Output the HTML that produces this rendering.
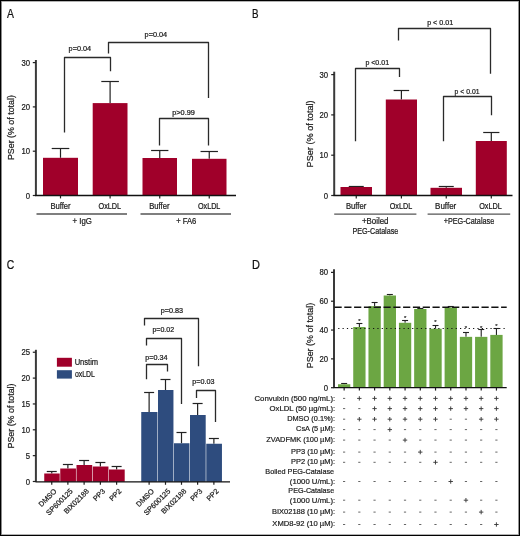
<!DOCTYPE html>
<html><head><meta charset="utf-8"><style>
html,body{margin:0;padding:0;background:#fff;}
body{width:520px;height:536px;overflow:hidden;}
svg{display:block;font-family:"Liberation Sans", sans-serif;}
</style></head><body>
<div style="will-change:transform;width:520px;height:536px"><svg width="520" height="536" viewBox="0 0 520 536">
<rect x="0" y="0" width="520" height="536" fill="#fff"/>
<text x="7.08" y="17.70" font-size="12.4" text-anchor="start" textLength="6.95" lengthAdjust="spacingAndGlyphs" fill="#111" stroke="#111" stroke-width="0.22" >A</text>
<line x1="35.90" y1="60.00" x2="35.90" y2="195.50" stroke="#3a3a3a" stroke-width="2.0" />
<line x1="32.80" y1="195.50" x2="35.90" y2="195.50" stroke="#222" stroke-width="1.2" />
<text x="25.81" y="198.60" font-size="8.6" text-anchor="start" textLength="4.30" lengthAdjust="spacingAndGlyphs" fill="#1a1a1a" stroke="#1a1a1a" stroke-width="0.22" >0</text>
<line x1="32.80" y1="151.20" x2="35.90" y2="151.20" stroke="#222" stroke-width="1.2" />
<text x="21.50" y="154.30" font-size="8.6" text-anchor="start" textLength="8.61" lengthAdjust="spacingAndGlyphs" fill="#1a1a1a" stroke="#1a1a1a" stroke-width="0.22" >10</text>
<line x1="32.80" y1="106.90" x2="35.90" y2="106.90" stroke="#222" stroke-width="1.2" />
<text x="21.50" y="110.00" font-size="8.6" text-anchor="start" textLength="8.61" lengthAdjust="spacingAndGlyphs" fill="#1a1a1a" stroke="#1a1a1a" stroke-width="0.22" >20</text>
<line x1="32.80" y1="62.60" x2="35.90" y2="62.60" stroke="#222" stroke-width="1.2" />
<text x="21.50" y="65.70" font-size="8.6" text-anchor="start" textLength="8.61" lengthAdjust="spacingAndGlyphs" fill="#1a1a1a" stroke="#1a1a1a" stroke-width="0.22" >30</text>
<text x="14.40" y="127.60" font-size="9.6" text-anchor="middle" textLength="65.00" lengthAdjust="spacingAndGlyphs" transform="rotate(-90 14.40 127.60)" fill="#1a1a1a" stroke="#1a1a1a" stroke-width="0.22" >PSer (% of total)</text>
<line x1="60.50" y1="157.80" x2="60.50" y2="148.50" stroke="#222" stroke-width="1.2" />
<line x1="51.70" y1="148.50" x2="69.30" y2="148.50" stroke="#222" stroke-width="1.2" />
<rect x="43.00" y="157.80" width="35.00" height="37.70" fill="#a0002a"/>
<line x1="60.50" y1="195.50" x2="60.50" y2="198.40" stroke="#222" stroke-width="1.2" />
<line x1="110.10" y1="103.10" x2="110.10" y2="81.50" stroke="#222" stroke-width="1.2" />
<line x1="101.30" y1="81.50" x2="118.90" y2="81.50" stroke="#222" stroke-width="1.2" />
<rect x="92.70" y="103.10" width="34.80" height="92.40" fill="#a0002a"/>
<line x1="110.10" y1="195.50" x2="110.10" y2="198.40" stroke="#222" stroke-width="1.2" />
<line x1="159.75" y1="158.00" x2="159.75" y2="150.50" stroke="#222" stroke-width="1.2" />
<line x1="151.10" y1="150.50" x2="168.40" y2="150.50" stroke="#222" stroke-width="1.2" />
<rect x="142.50" y="158.00" width="34.50" height="37.50" fill="#a0002a"/>
<line x1="159.75" y1="195.50" x2="159.75" y2="198.40" stroke="#222" stroke-width="1.2" />
<line x1="209.25" y1="158.80" x2="209.25" y2="151.50" stroke="#222" stroke-width="1.2" />
<line x1="200.55" y1="151.50" x2="217.95" y2="151.50" stroke="#222" stroke-width="1.2" />
<rect x="192.00" y="158.80" width="34.50" height="36.70" fill="#a0002a"/>
<line x1="209.25" y1="195.50" x2="209.25" y2="198.40" stroke="#222" stroke-width="1.2" />
<line x1="35.00" y1="195.50" x2="236.00" y2="195.50" stroke="#111" stroke-width="1.3" />
<text x="50.39" y="208.80" font-size="8.4" text-anchor="start" textLength="20.30" lengthAdjust="spacingAndGlyphs" fill="#1a1a1a" stroke="#1a1a1a" stroke-width="0.22" >Buffer</text>
<text x="98.51" y="208.80" font-size="8.4" text-anchor="start" textLength="22.68" lengthAdjust="spacingAndGlyphs" fill="#1a1a1a" stroke="#1a1a1a" stroke-width="0.22" >OxLDL</text>
<text x="149.13" y="208.80" font-size="8.4" text-anchor="start" textLength="20.36" lengthAdjust="spacingAndGlyphs" fill="#1a1a1a" stroke="#1a1a1a" stroke-width="0.22" >Buffer</text>
<text x="197.92" y="208.80" font-size="8.4" text-anchor="start" textLength="22.48" lengthAdjust="spacingAndGlyphs" fill="#1a1a1a" stroke="#1a1a1a" stroke-width="0.22" >OxLDL</text>
<line x1="36.50" y1="214.00" x2="127.00" y2="214.00" stroke="#555" stroke-width="1.3" />
<line x1="140.50" y1="214.00" x2="231.00" y2="214.00" stroke="#555" stroke-width="1.3" />
<text x="72.57" y="223.60" font-size="8.4" text-anchor="start" textLength="19.37" lengthAdjust="spacingAndGlyphs" fill="#1a1a1a" stroke="#1a1a1a" stroke-width="0.22" >+ IgG</text>
<text x="176.18" y="223.60" font-size="8.4" text-anchor="start" textLength="20.11" lengthAdjust="spacingAndGlyphs" fill="#1a1a1a" stroke="#1a1a1a" stroke-width="0.22" >+ FA6</text>
<polyline points="64.50,132.40 64.50,57.50 110.50,57.50 110.50,71.30" fill="none" stroke="#2a2a2a" stroke-width="1.3" stroke-linejoin="round"/>
<text x="68.58" y="51.40" font-size="7.0" text-anchor="start" textLength="22.49" lengthAdjust="spacingAndGlyphs" fill="#1a1a1a" stroke="#1a1a1a" stroke-width="0.22" >p=0.04</text>
<polyline points="108.50,53.40 108.50,42.50 208.50,42.50 208.50,98.00" fill="none" stroke="#2a2a2a" stroke-width="1.3" stroke-linejoin="round"/>
<text x="144.58" y="37.20" font-size="7.0" text-anchor="start" textLength="22.59" lengthAdjust="spacingAndGlyphs" fill="#1a1a1a" stroke="#1a1a1a" stroke-width="0.22" >p=0.04</text>
<polyline points="159.50,145.60 159.50,118.50 208.50,118.50 208.50,145.60" fill="none" stroke="#2a2a2a" stroke-width="1.3" stroke-linejoin="round"/>
<text x="172.28" y="114.60" font-size="7.0" text-anchor="start" textLength="22.62" lengthAdjust="spacingAndGlyphs" fill="#1a1a1a" stroke="#1a1a1a" stroke-width="0.22" >p&gt;0.99</text>
<text x="252.10" y="17.60" font-size="12.4" text-anchor="start" textLength="6.53" lengthAdjust="spacingAndGlyphs" fill="#111" stroke="#111" stroke-width="0.22" >B</text>
<line x1="334.20" y1="71.70" x2="334.20" y2="195.50" stroke="#3a3a3a" stroke-width="2.0" />
<line x1="331.20" y1="195.50" x2="334.20" y2="195.50" stroke="#222" stroke-width="1.2" />
<text x="323.81" y="198.60" font-size="8.6" text-anchor="start" textLength="4.30" lengthAdjust="spacingAndGlyphs" fill="#1a1a1a" stroke="#1a1a1a" stroke-width="0.22" >0</text>
<line x1="331.20" y1="155.20" x2="334.20" y2="155.20" stroke="#222" stroke-width="1.2" />
<text x="319.50" y="158.30" font-size="8.6" text-anchor="start" textLength="8.61" lengthAdjust="spacingAndGlyphs" fill="#1a1a1a" stroke="#1a1a1a" stroke-width="0.22" >10</text>
<line x1="331.20" y1="114.90" x2="334.20" y2="114.90" stroke="#222" stroke-width="1.2" />
<text x="319.50" y="118.00" font-size="8.6" text-anchor="start" textLength="8.61" lengthAdjust="spacingAndGlyphs" fill="#1a1a1a" stroke="#1a1a1a" stroke-width="0.22" >20</text>
<line x1="331.20" y1="74.60" x2="334.20" y2="74.60" stroke="#222" stroke-width="1.2" />
<text x="319.50" y="77.70" font-size="8.6" text-anchor="start" textLength="8.61" lengthAdjust="spacingAndGlyphs" fill="#1a1a1a" stroke="#1a1a1a" stroke-width="0.22" >30</text>
<text x="313.10" y="133.90" font-size="9.6" text-anchor="middle" textLength="67.00" lengthAdjust="spacingAndGlyphs" transform="rotate(-90 313.10 133.90)" fill="#1a1a1a" stroke="#1a1a1a" stroke-width="0.22" >PSer (% of total)</text>
<line x1="356.25" y1="187.00" x2="356.25" y2="186.50" stroke="#222" stroke-width="1.2" />
<line x1="348.75" y1="186.50" x2="363.75" y2="186.50" stroke="#222" stroke-width="1.2" />
<rect x="340.50" y="187.00" width="31.50" height="8.50" fill="#a0002a"/>
<line x1="356.25" y1="195.50" x2="356.25" y2="198.40" stroke="#222" stroke-width="1.2" />
<line x1="401.40" y1="99.50" x2="401.40" y2="90.50" stroke="#222" stroke-width="1.2" />
<line x1="393.65" y1="90.50" x2="409.15" y2="90.50" stroke="#222" stroke-width="1.2" />
<rect x="385.80" y="99.50" width="31.20" height="96.00" fill="#a0002a"/>
<line x1="401.40" y1="195.50" x2="401.40" y2="198.40" stroke="#222" stroke-width="1.2" />
<line x1="446.25" y1="187.80" x2="446.25" y2="186.50" stroke="#222" stroke-width="1.2" />
<line x1="438.75" y1="186.50" x2="453.75" y2="186.50" stroke="#222" stroke-width="1.2" />
<rect x="430.50" y="187.80" width="31.50" height="7.70" fill="#a0002a"/>
<line x1="446.25" y1="195.50" x2="446.25" y2="198.40" stroke="#222" stroke-width="1.2" />
<line x1="491.30" y1="141.00" x2="491.30" y2="132.50" stroke="#222" stroke-width="1.2" />
<line x1="483.20" y1="132.50" x2="499.40" y2="132.50" stroke="#222" stroke-width="1.2" />
<rect x="475.80" y="141.00" width="31.00" height="54.50" fill="#a0002a"/>
<line x1="491.30" y1="195.50" x2="491.30" y2="198.40" stroke="#222" stroke-width="1.2" />
<line x1="333.50" y1="195.50" x2="512.50" y2="195.50" stroke="#111" stroke-width="1.3" />
<text x="345.93" y="208.80" font-size="8.4" text-anchor="start" textLength="20.36" lengthAdjust="spacingAndGlyphs" fill="#1a1a1a" stroke="#1a1a1a" stroke-width="0.22" >Buffer</text>
<text x="389.72" y="208.80" font-size="8.4" text-anchor="start" textLength="22.48" lengthAdjust="spacingAndGlyphs" fill="#1a1a1a" stroke="#1a1a1a" stroke-width="0.22" >OxLDL</text>
<text x="435.10" y="208.80" font-size="8.4" text-anchor="start" textLength="21.19" lengthAdjust="spacingAndGlyphs" fill="#1a1a1a" stroke="#1a1a1a" stroke-width="0.22" >Buffer</text>
<text x="479.21" y="208.80" font-size="8.4" text-anchor="start" textLength="22.68" lengthAdjust="spacingAndGlyphs" fill="#1a1a1a" stroke="#1a1a1a" stroke-width="0.22" >OxLDL</text>
<line x1="334.20" y1="214.10" x2="416.40" y2="214.10" stroke="#555" stroke-width="1.3" />
<line x1="427.60" y1="214.10" x2="510.20" y2="214.10" stroke="#555" stroke-width="1.3" />
<text x="361.97" y="224.30" font-size="8.4" text-anchor="start" textLength="26.49" lengthAdjust="spacingAndGlyphs" fill="#1a1a1a" stroke="#1a1a1a" stroke-width="0.22" >+Boiled</text>
<text x="352.47" y="233.60" font-size="8.4" text-anchor="start" textLength="45.80" lengthAdjust="spacingAndGlyphs" fill="#1a1a1a" stroke="#1a1a1a" stroke-width="0.22" >PEG-Catalase</text>
<text x="443.70" y="224.40" font-size="8.4" text-anchor="start" textLength="50.47" lengthAdjust="spacingAndGlyphs" fill="#1a1a1a" stroke="#1a1a1a" stroke-width="0.22" >+PEG-Catalase</text>
<polyline points="355.50,141.30 355.50,68.50 399.50,68.50 399.50,77.00" fill="none" stroke="#2a2a2a" stroke-width="1.3" stroke-linejoin="round"/>
<text x="365.40" y="64.60" font-size="7.0" text-anchor="start" textLength="23.70" lengthAdjust="spacingAndGlyphs" fill="#1a1a1a" stroke="#1a1a1a" stroke-width="0.22" >p &lt;0.01</text>
<polyline points="398.50,40.40 398.50,28.50 490.50,28.50 490.50,73.80" fill="none" stroke="#2a2a2a" stroke-width="1.3" stroke-linejoin="round"/>
<text x="427.19" y="25.40" font-size="7.0" text-anchor="start" textLength="25.91" lengthAdjust="spacingAndGlyphs" fill="#1a1a1a" stroke="#1a1a1a" stroke-width="0.22" >p &lt; 0.01</text>
<polyline points="443.50,141.30 443.50,96.50 491.50,96.50 491.50,115.20" fill="none" stroke="#2a2a2a" stroke-width="1.3" stroke-linejoin="round"/>
<text x="454.61" y="94.10" font-size="7.0" text-anchor="start" textLength="24.88" lengthAdjust="spacingAndGlyphs" fill="#1a1a1a" stroke="#1a1a1a" stroke-width="0.22" >p &lt; 0.01</text>
<text x="6.77" y="268.50" font-size="12.4" text-anchor="start" textLength="7.48" lengthAdjust="spacingAndGlyphs" fill="#111" stroke="#111" stroke-width="0.22" >C</text>
<line x1="35.90" y1="349.80" x2="35.90" y2="481.80" stroke="#3a3a3a" stroke-width="2.0" />
<line x1="32.80" y1="481.50" x2="35.90" y2="481.50" stroke="#222" stroke-width="1.2" />
<text x="25.81" y="484.60" font-size="8.6" text-anchor="start" textLength="4.30" lengthAdjust="spacingAndGlyphs" fill="#1a1a1a" stroke="#1a1a1a" stroke-width="0.22" >0</text>
<line x1="32.80" y1="455.65" x2="35.90" y2="455.65" stroke="#222" stroke-width="1.2" />
<text x="25.83" y="458.75" font-size="8.6" text-anchor="start" textLength="4.30" lengthAdjust="spacingAndGlyphs" fill="#1a1a1a" stroke="#1a1a1a" stroke-width="0.22" >5</text>
<line x1="32.80" y1="429.80" x2="35.90" y2="429.80" stroke="#222" stroke-width="1.2" />
<text x="21.50" y="432.90" font-size="8.6" text-anchor="start" textLength="8.61" lengthAdjust="spacingAndGlyphs" fill="#1a1a1a" stroke="#1a1a1a" stroke-width="0.22" >10</text>
<line x1="32.80" y1="403.95" x2="35.90" y2="403.95" stroke="#222" stroke-width="1.2" />
<text x="21.53" y="407.05" font-size="8.6" text-anchor="start" textLength="8.61" lengthAdjust="spacingAndGlyphs" fill="#1a1a1a" stroke="#1a1a1a" stroke-width="0.22" >15</text>
<line x1="32.80" y1="378.10" x2="35.90" y2="378.10" stroke="#222" stroke-width="1.2" />
<text x="21.50" y="381.20" font-size="8.6" text-anchor="start" textLength="8.61" lengthAdjust="spacingAndGlyphs" fill="#1a1a1a" stroke="#1a1a1a" stroke-width="0.22" >20</text>
<line x1="32.80" y1="352.25" x2="35.90" y2="352.25" stroke="#222" stroke-width="1.2" />
<text x="21.53" y="355.35" font-size="8.6" text-anchor="start" textLength="8.61" lengthAdjust="spacingAndGlyphs" fill="#1a1a1a" stroke="#1a1a1a" stroke-width="0.22" >25</text>
<text x="14.40" y="416.00" font-size="9.6" text-anchor="middle" textLength="65.00" lengthAdjust="spacingAndGlyphs" transform="rotate(-90 14.40 416.00)" fill="#1a1a1a" stroke="#1a1a1a" stroke-width="0.22" >PSer (% of total)</text>
<line x1="51.75" y1="473.50" x2="51.75" y2="471.50" stroke="#222" stroke-width="1.2" />
<line x1="46.75" y1="471.50" x2="56.75" y2="471.50" stroke="#222" stroke-width="1.2" />
<rect x="44.25" y="473.50" width="15.45" height="8.30" fill="#a0002a"/>
<line x1="51.75" y1="481.80" x2="51.75" y2="484.80" stroke="#222" stroke-width="1.2" />
<line x1="67.88" y1="468.50" x2="67.88" y2="464.50" stroke="#222" stroke-width="1.2" />
<line x1="62.88" y1="464.50" x2="72.88" y2="464.50" stroke="#222" stroke-width="1.2" />
<rect x="60.25" y="468.50" width="15.70" height="13.30" fill="#a0002a"/>
<line x1="67.88" y1="481.80" x2="67.88" y2="484.80" stroke="#222" stroke-width="1.2" />
<line x1="84.12" y1="465.00" x2="84.12" y2="460.50" stroke="#222" stroke-width="1.2" />
<line x1="79.12" y1="460.50" x2="89.12" y2="460.50" stroke="#222" stroke-width="1.2" />
<rect x="76.50" y="465.00" width="15.70" height="16.80" fill="#a0002a"/>
<line x1="84.12" y1="481.80" x2="84.12" y2="484.80" stroke="#222" stroke-width="1.2" />
<line x1="100.38" y1="466.50" x2="100.38" y2="462.50" stroke="#222" stroke-width="1.2" />
<line x1="95.38" y1="462.50" x2="105.38" y2="462.50" stroke="#222" stroke-width="1.2" />
<rect x="92.75" y="466.50" width="15.70" height="15.30" fill="#a0002a"/>
<line x1="100.38" y1="481.80" x2="100.38" y2="484.80" stroke="#222" stroke-width="1.2" />
<line x1="116.62" y1="469.50" x2="116.62" y2="466.50" stroke="#222" stroke-width="1.2" />
<line x1="111.62" y1="466.50" x2="121.62" y2="466.50" stroke="#222" stroke-width="1.2" />
<rect x="109.00" y="469.50" width="15.70" height="12.30" fill="#a0002a"/>
<line x1="116.62" y1="481.80" x2="116.62" y2="484.80" stroke="#222" stroke-width="1.2" />
<line x1="149.12" y1="412.00" x2="149.12" y2="392.50" stroke="#222" stroke-width="1.2" />
<line x1="144.12" y1="392.50" x2="154.12" y2="392.50" stroke="#222" stroke-width="1.2" />
<rect x="141.25" y="412.00" width="16.20" height="69.80" fill="#2e4c7e"/>
<line x1="149.12" y1="481.80" x2="149.12" y2="484.80" stroke="#222" stroke-width="1.2" />
<line x1="165.50" y1="390.00" x2="165.50" y2="379.50" stroke="#222" stroke-width="1.2" />
<line x1="160.50" y1="379.50" x2="170.50" y2="379.50" stroke="#222" stroke-width="1.2" />
<rect x="158.00" y="390.00" width="15.45" height="91.80" fill="#2e4c7e"/>
<line x1="165.50" y1="481.80" x2="165.50" y2="484.80" stroke="#222" stroke-width="1.2" />
<line x1="181.50" y1="443.25" x2="181.50" y2="432.50" stroke="#222" stroke-width="1.2" />
<line x1="176.50" y1="432.50" x2="186.50" y2="432.50" stroke="#222" stroke-width="1.2" />
<rect x="174.00" y="443.25" width="15.45" height="38.55" fill="#2e4c7e"/>
<line x1="181.50" y1="481.80" x2="181.50" y2="484.80" stroke="#222" stroke-width="1.2" />
<line x1="197.62" y1="415.00" x2="197.62" y2="403.50" stroke="#222" stroke-width="1.2" />
<line x1="192.62" y1="403.50" x2="202.62" y2="403.50" stroke="#222" stroke-width="1.2" />
<rect x="190.00" y="415.00" width="15.70" height="66.80" fill="#2e4c7e"/>
<line x1="197.62" y1="481.80" x2="197.62" y2="484.80" stroke="#222" stroke-width="1.2" />
<line x1="213.88" y1="443.75" x2="213.88" y2="438.50" stroke="#222" stroke-width="1.2" />
<line x1="208.88" y1="438.50" x2="218.88" y2="438.50" stroke="#222" stroke-width="1.2" />
<rect x="206.25" y="443.75" width="15.70" height="38.05" fill="#2e4c7e"/>
<line x1="213.88" y1="481.80" x2="213.88" y2="484.80" stroke="#222" stroke-width="1.2" />
<line x1="35.50" y1="481.80" x2="230.00" y2="481.80" stroke="#111" stroke-width="1.3" />
<text x="57.05" y="491.70" font-size="7.3" text-anchor="end" transform="rotate(-45 57.05 491.70)" fill="#1a1a1a" stroke="#1a1a1a" stroke-width="0.22" >DMSO</text>
<text x="73.17" y="491.70" font-size="7.3" text-anchor="end" transform="rotate(-45 73.17 491.70)" fill="#1a1a1a" stroke="#1a1a1a" stroke-width="0.22" >SP600125</text>
<text x="89.42" y="491.70" font-size="7.3" text-anchor="end" transform="rotate(-45 89.42 491.70)" fill="#1a1a1a" stroke="#1a1a1a" stroke-width="0.22" >BIX02188</text>
<text x="105.67" y="491.70" font-size="7.3" text-anchor="end" transform="rotate(-45 105.67 491.70)" fill="#1a1a1a" stroke="#1a1a1a" stroke-width="0.22" >PP3</text>
<text x="121.92" y="491.70" font-size="7.3" text-anchor="end" transform="rotate(-45 121.92 491.70)" fill="#1a1a1a" stroke="#1a1a1a" stroke-width="0.22" >PP2</text>
<text x="154.43" y="491.70" font-size="7.3" text-anchor="end" transform="rotate(-45 154.43 491.70)" fill="#1a1a1a" stroke="#1a1a1a" stroke-width="0.22" >DMSO</text>
<text x="170.80" y="491.70" font-size="7.3" text-anchor="end" transform="rotate(-45 170.80 491.70)" fill="#1a1a1a" stroke="#1a1a1a" stroke-width="0.22" >SP600125</text>
<text x="186.80" y="491.70" font-size="7.3" text-anchor="end" transform="rotate(-45 186.80 491.70)" fill="#1a1a1a" stroke="#1a1a1a" stroke-width="0.22" >BIX02188</text>
<text x="202.93" y="491.70" font-size="7.3" text-anchor="end" transform="rotate(-45 202.93 491.70)" fill="#1a1a1a" stroke="#1a1a1a" stroke-width="0.22" >PP3</text>
<text x="219.18" y="491.70" font-size="7.3" text-anchor="end" transform="rotate(-45 219.18 491.70)" fill="#1a1a1a" stroke="#1a1a1a" stroke-width="0.22" >PP2</text>
<rect x="56.90" y="357.80" width="15.00" height="8.90" fill="#a0002a"/>
<rect x="56.90" y="370.20" width="15.00" height="8.40" fill="#2e4c7e"/>
<text x="74.67" y="364.80" font-size="8.4" text-anchor="start" textLength="23.48" lengthAdjust="spacingAndGlyphs" fill="#1a1a1a" stroke="#1a1a1a" stroke-width="0.22" >Unstim</text>
<text x="74.96" y="377.10" font-size="8.4" text-anchor="start" textLength="20.02" lengthAdjust="spacingAndGlyphs" fill="#1a1a1a" stroke="#1a1a1a" stroke-width="0.22" >oxLDL</text>
<polyline points="144.50,325.40 144.50,318.50 198.50,318.50 198.50,366.20" fill="none" stroke="#2a2a2a" stroke-width="1.3" stroke-linejoin="round"/>
<text x="160.68" y="313.10" font-size="7.0" text-anchor="start" textLength="22.39" lengthAdjust="spacingAndGlyphs" fill="#1a1a1a" stroke="#1a1a1a" stroke-width="0.22" >p=0.83</text>
<polyline points="146.50,345.50 146.50,338.50 181.50,338.50 181.50,404.00" fill="none" stroke="#2a2a2a" stroke-width="1.3" stroke-linejoin="round"/>
<text x="152.40" y="332.30" font-size="7.0" text-anchor="start" textLength="21.71" lengthAdjust="spacingAndGlyphs" fill="#1a1a1a" stroke="#1a1a1a" stroke-width="0.22" >p=0.02</text>
<polyline points="146.50,379.20 146.50,364.50 167.50,364.50 167.50,371.50" fill="none" stroke="#2a2a2a" stroke-width="1.3" stroke-linejoin="round"/>
<text x="145.29" y="360.00" font-size="7.0" text-anchor="start" textLength="22.28" lengthAdjust="spacingAndGlyphs" fill="#1a1a1a" stroke="#1a1a1a" stroke-width="0.22" >p=0.34</text>
<polyline points="196.50,398.00 196.50,390.50 215.50,390.50 215.50,422.00" fill="none" stroke="#2a2a2a" stroke-width="1.3" stroke-linejoin="round"/>
<text x="192.39" y="384.20" font-size="7.0" text-anchor="start" textLength="22.18" lengthAdjust="spacingAndGlyphs" fill="#1a1a1a" stroke="#1a1a1a" stroke-width="0.22" >p=0.03</text>
<text x="252.00" y="268.50" font-size="12.4" text-anchor="start" textLength="7.94" lengthAdjust="spacingAndGlyphs" fill="#111" stroke="#111" stroke-width="0.22" >D</text>
<line x1="334.00" y1="269.30" x2="334.00" y2="387.60" stroke="#3a3a3a" stroke-width="2.0" />
<line x1="331.00" y1="387.70" x2="334.00" y2="387.70" stroke="#222" stroke-width="1.2" />
<text x="323.81" y="390.80" font-size="8.6" text-anchor="start" textLength="4.30" lengthAdjust="spacingAndGlyphs" fill="#1a1a1a" stroke="#1a1a1a" stroke-width="0.22" >0</text>
<line x1="331.00" y1="358.87" x2="334.00" y2="358.87" stroke="#222" stroke-width="1.2" />
<text x="319.50" y="361.97" font-size="8.6" text-anchor="start" textLength="8.61" lengthAdjust="spacingAndGlyphs" fill="#1a1a1a" stroke="#1a1a1a" stroke-width="0.22" >20</text>
<line x1="331.00" y1="330.04" x2="334.00" y2="330.04" stroke="#222" stroke-width="1.2" />
<text x="319.50" y="333.14" font-size="8.6" text-anchor="start" textLength="8.61" lengthAdjust="spacingAndGlyphs" fill="#1a1a1a" stroke="#1a1a1a" stroke-width="0.22" >40</text>
<line x1="331.00" y1="301.21" x2="334.00" y2="301.21" stroke="#222" stroke-width="1.2" />
<text x="319.50" y="304.31" font-size="8.6" text-anchor="start" textLength="8.61" lengthAdjust="spacingAndGlyphs" fill="#1a1a1a" stroke="#1a1a1a" stroke-width="0.22" >60</text>
<line x1="331.00" y1="272.38" x2="334.00" y2="272.38" stroke="#222" stroke-width="1.2" />
<text x="319.50" y="275.48" font-size="8.6" text-anchor="start" textLength="8.61" lengthAdjust="spacingAndGlyphs" fill="#1a1a1a" stroke="#1a1a1a" stroke-width="0.22" >80</text>
<text x="312.90" y="335.50" font-size="9.6" text-anchor="middle" textLength="65.50" lengthAdjust="spacingAndGlyphs" transform="rotate(-90 312.90 335.50)" fill="#1a1a1a" stroke="#1a1a1a" stroke-width="0.22" >PSer (% of total)</text>
<line x1="344.15" y1="384.25" x2="344.15" y2="383.50" stroke="#222" stroke-width="1.1" />
<line x1="341.15" y1="383.50" x2="347.15" y2="383.50" stroke="#222" stroke-width="1.1" />
<rect x="338.00" y="384.25" width="12.30" height="3.35" fill="#6ca643"/>
<line x1="344.15" y1="387.60" x2="344.15" y2="390.60" stroke="#222" stroke-width="1.2" />
<line x1="359.38" y1="327.00" x2="359.38" y2="323.50" stroke="#222" stroke-width="1.1" />
<line x1="356.38" y1="323.50" x2="362.38" y2="323.50" stroke="#222" stroke-width="1.1" />
<rect x="353.23" y="327.00" width="12.30" height="60.60" fill="#6ca643"/>
<line x1="359.38" y1="387.60" x2="359.38" y2="390.60" stroke="#222" stroke-width="1.2" />
<text x="359.38" y="323.10" font-size="6.0" text-anchor="middle" fill="#333" stroke="#333" stroke-width="0.22" >*</text>
<line x1="374.61" y1="306.20" x2="374.61" y2="302.50" stroke="#222" stroke-width="1.1" />
<line x1="371.61" y1="302.50" x2="377.61" y2="302.50" stroke="#222" stroke-width="1.1" />
<rect x="368.46" y="306.20" width="12.30" height="81.40" fill="#6ca643"/>
<line x1="374.61" y1="387.60" x2="374.61" y2="390.60" stroke="#222" stroke-width="1.2" />
<line x1="389.84" y1="295.50" x2="389.84" y2="294.50" stroke="#222" stroke-width="1.1" />
<line x1="386.84" y1="294.50" x2="392.84" y2="294.50" stroke="#222" stroke-width="1.1" />
<rect x="383.69" y="295.50" width="12.30" height="92.10" fill="#6ca643"/>
<line x1="389.84" y1="387.60" x2="389.84" y2="390.60" stroke="#222" stroke-width="1.2" />
<line x1="405.07" y1="322.80" x2="405.07" y2="320.50" stroke="#222" stroke-width="1.1" />
<line x1="402.07" y1="320.50" x2="408.07" y2="320.50" stroke="#222" stroke-width="1.1" />
<rect x="398.92" y="322.80" width="12.30" height="64.80" fill="#6ca643"/>
<line x1="405.07" y1="387.60" x2="405.07" y2="390.60" stroke="#222" stroke-width="1.2" />
<text x="405.07" y="319.70" font-size="6.0" text-anchor="middle" fill="#333" stroke="#333" stroke-width="0.22" >*</text>
<line x1="420.30" y1="309.00" x2="420.30" y2="308.50" stroke="#222" stroke-width="1.1" />
<line x1="417.30" y1="308.50" x2="423.30" y2="308.50" stroke="#222" stroke-width="1.1" />
<rect x="414.15" y="309.00" width="12.30" height="78.60" fill="#6ca643"/>
<line x1="420.30" y1="387.60" x2="420.30" y2="390.60" stroke="#222" stroke-width="1.2" />
<line x1="435.53" y1="328.75" x2="435.53" y2="325.50" stroke="#222" stroke-width="1.1" />
<line x1="432.53" y1="325.50" x2="438.53" y2="325.50" stroke="#222" stroke-width="1.1" />
<rect x="429.38" y="328.75" width="12.30" height="58.85" fill="#6ca643"/>
<line x1="435.53" y1="387.60" x2="435.53" y2="390.60" stroke="#222" stroke-width="1.2" />
<text x="435.53" y="323.75" font-size="6.0" text-anchor="middle" fill="#333" stroke="#333" stroke-width="0.22" >*</text>
<line x1="450.76" y1="307.50" x2="450.76" y2="306.50" stroke="#222" stroke-width="1.1" />
<line x1="447.76" y1="306.50" x2="453.76" y2="306.50" stroke="#222" stroke-width="1.1" />
<rect x="444.61" y="307.50" width="12.30" height="80.10" fill="#6ca643"/>
<line x1="450.76" y1="387.60" x2="450.76" y2="390.60" stroke="#222" stroke-width="1.2" />
<line x1="465.99" y1="336.85" x2="465.99" y2="332.50" stroke="#222" stroke-width="1.1" />
<line x1="462.99" y1="332.50" x2="468.99" y2="332.50" stroke="#222" stroke-width="1.1" />
<rect x="459.84" y="336.85" width="12.30" height="50.75" fill="#6ca643"/>
<line x1="465.99" y1="387.60" x2="465.99" y2="390.60" stroke="#222" stroke-width="1.2" />
<text x="465.99" y="330.00" font-size="6.0" text-anchor="middle" fill="#333" stroke="#333" stroke-width="0.22" >*</text>
<line x1="481.22" y1="336.85" x2="481.22" y2="329.50" stroke="#222" stroke-width="1.1" />
<line x1="478.22" y1="329.50" x2="484.22" y2="329.50" stroke="#222" stroke-width="1.1" />
<rect x="475.07" y="336.85" width="12.30" height="50.75" fill="#6ca643"/>
<line x1="481.22" y1="387.60" x2="481.22" y2="390.60" stroke="#222" stroke-width="1.2" />
<text x="481.22" y="330.00" font-size="6.0" text-anchor="middle" fill="#333" stroke="#333" stroke-width="0.22" >*</text>
<line x1="496.45" y1="334.90" x2="496.45" y2="328.50" stroke="#222" stroke-width="1.1" />
<line x1="493.45" y1="328.50" x2="499.45" y2="328.50" stroke="#222" stroke-width="1.1" />
<rect x="490.30" y="334.90" width="12.30" height="52.70" fill="#6ca643"/>
<line x1="496.45" y1="387.60" x2="496.45" y2="390.60" stroke="#222" stroke-width="1.2" />
<text x="496.45" y="327.50" font-size="6.0" text-anchor="middle" fill="#333" stroke="#333" stroke-width="0.22" >*</text>
<line x1="333.50" y1="387.60" x2="506.70" y2="387.60" stroke="#111" stroke-width="1.3" />
<line x1="334.50" y1="307.20" x2="506.70" y2="307.20" stroke="#111" stroke-width="1.5" stroke-dasharray="7.2 2.6"/>
<line x1="338.20" y1="328.50" x2="506.70" y2="328.50" stroke="#111" stroke-width="1.1" stroke-dasharray="1.2 3.15"/>
<text x="254.45" y="400.70" font-size="7.9" text-anchor="start" textLength="80.71" lengthAdjust="spacingAndGlyphs" fill="#1a1a1a" stroke="#1a1a1a" stroke-width="0.2" >Convulxin (500 ng/mL):</text>
<line x1="343.00" y1="398.40" x2="345.20" y2="398.40" stroke="#555" stroke-width="0.9" />
<line x1="357.13" y1="398.40" x2="361.53" y2="398.40" stroke="#3a3a3a" stroke-width="0.95" />
<line x1="359.33" y1="396.20" x2="359.33" y2="400.60" stroke="#3a3a3a" stroke-width="0.95" />
<line x1="372.36" y1="398.40" x2="376.76" y2="398.40" stroke="#3a3a3a" stroke-width="0.95" />
<line x1="374.56" y1="396.20" x2="374.56" y2="400.60" stroke="#3a3a3a" stroke-width="0.95" />
<line x1="387.59" y1="398.40" x2="391.99" y2="398.40" stroke="#3a3a3a" stroke-width="0.95" />
<line x1="389.79" y1="396.20" x2="389.79" y2="400.60" stroke="#3a3a3a" stroke-width="0.95" />
<line x1="402.82" y1="398.40" x2="407.22" y2="398.40" stroke="#3a3a3a" stroke-width="0.95" />
<line x1="405.02" y1="396.20" x2="405.02" y2="400.60" stroke="#3a3a3a" stroke-width="0.95" />
<line x1="418.05" y1="398.40" x2="422.45" y2="398.40" stroke="#3a3a3a" stroke-width="0.95" />
<line x1="420.25" y1="396.20" x2="420.25" y2="400.60" stroke="#3a3a3a" stroke-width="0.95" />
<line x1="433.28" y1="398.40" x2="437.68" y2="398.40" stroke="#3a3a3a" stroke-width="0.95" />
<line x1="435.48" y1="396.20" x2="435.48" y2="400.60" stroke="#3a3a3a" stroke-width="0.95" />
<line x1="448.51" y1="398.40" x2="452.91" y2="398.40" stroke="#3a3a3a" stroke-width="0.95" />
<line x1="450.71" y1="396.20" x2="450.71" y2="400.60" stroke="#3a3a3a" stroke-width="0.95" />
<line x1="463.74" y1="398.40" x2="468.14" y2="398.40" stroke="#3a3a3a" stroke-width="0.95" />
<line x1="465.94" y1="396.20" x2="465.94" y2="400.60" stroke="#3a3a3a" stroke-width="0.95" />
<line x1="478.97" y1="398.40" x2="483.37" y2="398.40" stroke="#3a3a3a" stroke-width="0.95" />
<line x1="481.17" y1="396.20" x2="481.17" y2="400.60" stroke="#3a3a3a" stroke-width="0.95" />
<line x1="494.20" y1="398.40" x2="498.60" y2="398.40" stroke="#3a3a3a" stroke-width="0.95" />
<line x1="496.40" y1="396.20" x2="496.40" y2="400.60" stroke="#3a3a3a" stroke-width="0.95" />
<text x="269.59" y="410.80" font-size="7.9" text-anchor="start" textLength="65.57" lengthAdjust="spacingAndGlyphs" fill="#1a1a1a" stroke="#1a1a1a" stroke-width="0.2" >OxLDL (50 µg/mL):</text>
<line x1="343.00" y1="408.60" x2="345.20" y2="408.60" stroke="#555" stroke-width="0.9" />
<line x1="358.23" y1="408.60" x2="360.43" y2="408.60" stroke="#555" stroke-width="0.9" />
<line x1="372.36" y1="408.60" x2="376.76" y2="408.60" stroke="#3a3a3a" stroke-width="0.95" />
<line x1="374.56" y1="406.40" x2="374.56" y2="410.80" stroke="#3a3a3a" stroke-width="0.95" />
<line x1="387.59" y1="408.60" x2="391.99" y2="408.60" stroke="#3a3a3a" stroke-width="0.95" />
<line x1="389.79" y1="406.40" x2="389.79" y2="410.80" stroke="#3a3a3a" stroke-width="0.95" />
<line x1="402.82" y1="408.60" x2="407.22" y2="408.60" stroke="#3a3a3a" stroke-width="0.95" />
<line x1="405.02" y1="406.40" x2="405.02" y2="410.80" stroke="#3a3a3a" stroke-width="0.95" />
<line x1="418.05" y1="408.60" x2="422.45" y2="408.60" stroke="#3a3a3a" stroke-width="0.95" />
<line x1="420.25" y1="406.40" x2="420.25" y2="410.80" stroke="#3a3a3a" stroke-width="0.95" />
<line x1="433.28" y1="408.60" x2="437.68" y2="408.60" stroke="#3a3a3a" stroke-width="0.95" />
<line x1="435.48" y1="406.40" x2="435.48" y2="410.80" stroke="#3a3a3a" stroke-width="0.95" />
<line x1="448.51" y1="408.60" x2="452.91" y2="408.60" stroke="#3a3a3a" stroke-width="0.95" />
<line x1="450.71" y1="406.40" x2="450.71" y2="410.80" stroke="#3a3a3a" stroke-width="0.95" />
<line x1="463.74" y1="408.60" x2="468.14" y2="408.60" stroke="#3a3a3a" stroke-width="0.95" />
<line x1="465.94" y1="406.40" x2="465.94" y2="410.80" stroke="#3a3a3a" stroke-width="0.95" />
<line x1="478.97" y1="408.60" x2="483.37" y2="408.60" stroke="#3a3a3a" stroke-width="0.95" />
<line x1="481.17" y1="406.40" x2="481.17" y2="410.80" stroke="#3a3a3a" stroke-width="0.95" />
<line x1="494.20" y1="408.60" x2="498.60" y2="408.60" stroke="#3a3a3a" stroke-width="0.95" />
<line x1="496.40" y1="406.40" x2="496.40" y2="410.80" stroke="#3a3a3a" stroke-width="0.95" />
<text x="287.14" y="421.00" font-size="7.9" text-anchor="start" textLength="47.98" lengthAdjust="spacingAndGlyphs" fill="#1a1a1a" stroke="#1a1a1a" stroke-width="0.2" >DMSO (0.1%):</text>
<line x1="343.00" y1="419.20" x2="345.20" y2="419.20" stroke="#555" stroke-width="0.9" />
<line x1="357.13" y1="419.20" x2="361.53" y2="419.20" stroke="#3a3a3a" stroke-width="0.95" />
<line x1="359.33" y1="417.00" x2="359.33" y2="421.40" stroke="#3a3a3a" stroke-width="0.95" />
<line x1="372.36" y1="419.20" x2="376.76" y2="419.20" stroke="#3a3a3a" stroke-width="0.95" />
<line x1="374.56" y1="417.00" x2="374.56" y2="421.40" stroke="#3a3a3a" stroke-width="0.95" />
<line x1="387.59" y1="419.20" x2="391.99" y2="419.20" stroke="#3a3a3a" stroke-width="0.95" />
<line x1="389.79" y1="417.00" x2="389.79" y2="421.40" stroke="#3a3a3a" stroke-width="0.95" />
<line x1="402.82" y1="419.20" x2="407.22" y2="419.20" stroke="#3a3a3a" stroke-width="0.95" />
<line x1="405.02" y1="417.00" x2="405.02" y2="421.40" stroke="#3a3a3a" stroke-width="0.95" />
<line x1="418.05" y1="419.20" x2="422.45" y2="419.20" stroke="#3a3a3a" stroke-width="0.95" />
<line x1="420.25" y1="417.00" x2="420.25" y2="421.40" stroke="#3a3a3a" stroke-width="0.95" />
<line x1="433.28" y1="419.20" x2="437.68" y2="419.20" stroke="#3a3a3a" stroke-width="0.95" />
<line x1="435.48" y1="417.00" x2="435.48" y2="421.40" stroke="#3a3a3a" stroke-width="0.95" />
<line x1="449.61" y1="419.20" x2="451.81" y2="419.20" stroke="#555" stroke-width="0.9" />
<line x1="464.84" y1="419.20" x2="467.04" y2="419.20" stroke="#555" stroke-width="0.9" />
<line x1="478.97" y1="419.20" x2="483.37" y2="419.20" stroke="#3a3a3a" stroke-width="0.95" />
<line x1="481.17" y1="417.00" x2="481.17" y2="421.40" stroke="#3a3a3a" stroke-width="0.95" />
<line x1="494.20" y1="419.20" x2="498.60" y2="419.20" stroke="#3a3a3a" stroke-width="0.95" />
<line x1="496.40" y1="417.00" x2="496.40" y2="421.40" stroke="#3a3a3a" stroke-width="0.95" />
<text x="296.07" y="431.20" font-size="7.9" text-anchor="start" textLength="39.05" lengthAdjust="spacingAndGlyphs" fill="#1a1a1a" stroke="#1a1a1a" stroke-width="0.2" >CsA (5 µM):</text>
<line x1="343.00" y1="429.60" x2="345.20" y2="429.60" stroke="#555" stroke-width="0.9" />
<line x1="358.23" y1="429.60" x2="360.43" y2="429.60" stroke="#555" stroke-width="0.9" />
<line x1="373.46" y1="429.60" x2="375.66" y2="429.60" stroke="#555" stroke-width="0.9" />
<line x1="387.59" y1="429.60" x2="391.99" y2="429.60" stroke="#3a3a3a" stroke-width="0.95" />
<line x1="389.79" y1="427.40" x2="389.79" y2="431.80" stroke="#3a3a3a" stroke-width="0.95" />
<line x1="403.92" y1="429.60" x2="406.12" y2="429.60" stroke="#555" stroke-width="0.9" />
<line x1="419.15" y1="429.60" x2="421.35" y2="429.60" stroke="#555" stroke-width="0.9" />
<line x1="434.38" y1="429.60" x2="436.58" y2="429.60" stroke="#555" stroke-width="0.9" />
<line x1="449.61" y1="429.60" x2="451.81" y2="429.60" stroke="#555" stroke-width="0.9" />
<line x1="464.84" y1="429.60" x2="467.04" y2="429.60" stroke="#555" stroke-width="0.9" />
<line x1="480.07" y1="429.60" x2="482.27" y2="429.60" stroke="#555" stroke-width="0.9" />
<line x1="495.30" y1="429.60" x2="497.50" y2="429.60" stroke="#555" stroke-width="0.9" />
<text x="266.21" y="441.90" font-size="7.9" text-anchor="start" textLength="68.92" lengthAdjust="spacingAndGlyphs" fill="#1a1a1a" stroke="#1a1a1a" stroke-width="0.2" >ZVADFMK (100 µM):</text>
<line x1="343.00" y1="440.10" x2="345.20" y2="440.10" stroke="#555" stroke-width="0.9" />
<line x1="358.23" y1="440.10" x2="360.43" y2="440.10" stroke="#555" stroke-width="0.9" />
<line x1="373.46" y1="440.10" x2="375.66" y2="440.10" stroke="#555" stroke-width="0.9" />
<line x1="388.69" y1="440.10" x2="390.89" y2="440.10" stroke="#555" stroke-width="0.9" />
<line x1="402.82" y1="440.10" x2="407.22" y2="440.10" stroke="#3a3a3a" stroke-width="0.95" />
<line x1="405.02" y1="437.90" x2="405.02" y2="442.30" stroke="#3a3a3a" stroke-width="0.95" />
<line x1="419.15" y1="440.10" x2="421.35" y2="440.10" stroke="#555" stroke-width="0.9" />
<line x1="434.38" y1="440.10" x2="436.58" y2="440.10" stroke="#555" stroke-width="0.9" />
<line x1="449.61" y1="440.10" x2="451.81" y2="440.10" stroke="#555" stroke-width="0.9" />
<line x1="464.84" y1="440.10" x2="467.04" y2="440.10" stroke="#555" stroke-width="0.9" />
<line x1="480.07" y1="440.10" x2="482.27" y2="440.10" stroke="#555" stroke-width="0.9" />
<line x1="495.30" y1="440.10" x2="497.50" y2="440.10" stroke="#555" stroke-width="0.9" />
<text x="290.94" y="453.80" font-size="7.9" text-anchor="start" textLength="44.20" lengthAdjust="spacingAndGlyphs" fill="#1a1a1a" stroke="#1a1a1a" stroke-width="0.2" >PP3 (10 µM):</text>
<line x1="343.00" y1="452.10" x2="345.20" y2="452.10" stroke="#555" stroke-width="0.9" />
<line x1="358.23" y1="452.10" x2="360.43" y2="452.10" stroke="#555" stroke-width="0.9" />
<line x1="373.46" y1="452.10" x2="375.66" y2="452.10" stroke="#555" stroke-width="0.9" />
<line x1="388.69" y1="452.10" x2="390.89" y2="452.10" stroke="#555" stroke-width="0.9" />
<line x1="403.92" y1="452.10" x2="406.12" y2="452.10" stroke="#555" stroke-width="0.9" />
<line x1="418.05" y1="452.10" x2="422.45" y2="452.10" stroke="#3a3a3a" stroke-width="0.95" />
<line x1="420.25" y1="449.90" x2="420.25" y2="454.30" stroke="#3a3a3a" stroke-width="0.95" />
<line x1="434.38" y1="452.10" x2="436.58" y2="452.10" stroke="#555" stroke-width="0.9" />
<line x1="449.61" y1="452.10" x2="451.81" y2="452.10" stroke="#555" stroke-width="0.9" />
<line x1="464.84" y1="452.10" x2="467.04" y2="452.10" stroke="#555" stroke-width="0.9" />
<line x1="480.07" y1="452.10" x2="482.27" y2="452.10" stroke="#555" stroke-width="0.9" />
<line x1="495.30" y1="452.10" x2="497.50" y2="452.10" stroke="#555" stroke-width="0.9" />
<text x="290.94" y="463.90" font-size="7.9" text-anchor="start" textLength="44.20" lengthAdjust="spacingAndGlyphs" fill="#1a1a1a" stroke="#1a1a1a" stroke-width="0.2" >PP2 (10 µM):</text>
<line x1="343.00" y1="462.30" x2="345.20" y2="462.30" stroke="#555" stroke-width="0.9" />
<line x1="358.23" y1="462.30" x2="360.43" y2="462.30" stroke="#555" stroke-width="0.9" />
<line x1="373.46" y1="462.30" x2="375.66" y2="462.30" stroke="#555" stroke-width="0.9" />
<line x1="388.69" y1="462.30" x2="390.89" y2="462.30" stroke="#555" stroke-width="0.9" />
<line x1="403.92" y1="462.30" x2="406.12" y2="462.30" stroke="#555" stroke-width="0.9" />
<line x1="419.15" y1="462.30" x2="421.35" y2="462.30" stroke="#555" stroke-width="0.9" />
<line x1="433.28" y1="462.30" x2="437.68" y2="462.30" stroke="#3a3a3a" stroke-width="0.95" />
<line x1="435.48" y1="460.10" x2="435.48" y2="464.50" stroke="#3a3a3a" stroke-width="0.95" />
<line x1="449.61" y1="462.30" x2="451.81" y2="462.30" stroke="#555" stroke-width="0.9" />
<line x1="464.84" y1="462.30" x2="467.04" y2="462.30" stroke="#555" stroke-width="0.9" />
<line x1="480.07" y1="462.30" x2="482.27" y2="462.30" stroke="#555" stroke-width="0.9" />
<line x1="495.30" y1="462.30" x2="497.50" y2="462.30" stroke="#555" stroke-width="0.9" />
<text x="289.87" y="483.90" font-size="7.9" text-anchor="start" textLength="45.29" lengthAdjust="spacingAndGlyphs" fill="#1a1a1a" stroke="#1a1a1a" stroke-width="0.2" >(1000 U/mL):</text>
<line x1="343.00" y1="481.50" x2="345.20" y2="481.50" stroke="#555" stroke-width="0.9" />
<line x1="358.23" y1="481.50" x2="360.43" y2="481.50" stroke="#555" stroke-width="0.9" />
<line x1="373.46" y1="481.50" x2="375.66" y2="481.50" stroke="#555" stroke-width="0.9" />
<line x1="388.69" y1="481.50" x2="390.89" y2="481.50" stroke="#555" stroke-width="0.9" />
<line x1="403.92" y1="481.50" x2="406.12" y2="481.50" stroke="#555" stroke-width="0.9" />
<line x1="419.15" y1="481.50" x2="421.35" y2="481.50" stroke="#555" stroke-width="0.9" />
<line x1="434.38" y1="481.50" x2="436.58" y2="481.50" stroke="#555" stroke-width="0.9" />
<line x1="448.51" y1="481.50" x2="452.91" y2="481.50" stroke="#3a3a3a" stroke-width="0.95" />
<line x1="450.71" y1="479.30" x2="450.71" y2="483.70" stroke="#3a3a3a" stroke-width="0.95" />
<line x1="464.84" y1="481.50" x2="467.04" y2="481.50" stroke="#555" stroke-width="0.9" />
<line x1="480.07" y1="481.50" x2="482.27" y2="481.50" stroke="#555" stroke-width="0.9" />
<line x1="495.30" y1="481.50" x2="497.50" y2="481.50" stroke="#555" stroke-width="0.9" />
<text x="289.87" y="502.80" font-size="7.9" text-anchor="start" textLength="45.29" lengthAdjust="spacingAndGlyphs" fill="#1a1a1a" stroke="#1a1a1a" stroke-width="0.2" >(1000 U/mL):</text>
<line x1="343.00" y1="500.20" x2="345.20" y2="500.20" stroke="#555" stroke-width="0.9" />
<line x1="358.23" y1="500.20" x2="360.43" y2="500.20" stroke="#555" stroke-width="0.9" />
<line x1="373.46" y1="500.20" x2="375.66" y2="500.20" stroke="#555" stroke-width="0.9" />
<line x1="388.69" y1="500.20" x2="390.89" y2="500.20" stroke="#555" stroke-width="0.9" />
<line x1="403.92" y1="500.20" x2="406.12" y2="500.20" stroke="#555" stroke-width="0.9" />
<line x1="419.15" y1="500.20" x2="421.35" y2="500.20" stroke="#555" stroke-width="0.9" />
<line x1="434.38" y1="500.20" x2="436.58" y2="500.20" stroke="#555" stroke-width="0.9" />
<line x1="449.61" y1="500.20" x2="451.81" y2="500.20" stroke="#555" stroke-width="0.9" />
<line x1="463.74" y1="500.20" x2="468.14" y2="500.20" stroke="#3a3a3a" stroke-width="0.95" />
<line x1="465.94" y1="498.00" x2="465.94" y2="502.40" stroke="#3a3a3a" stroke-width="0.95" />
<line x1="480.07" y1="500.20" x2="482.27" y2="500.20" stroke="#555" stroke-width="0.9" />
<line x1="495.30" y1="500.20" x2="497.50" y2="500.20" stroke="#555" stroke-width="0.9" />
<text x="271.93" y="513.90" font-size="7.9" text-anchor="start" textLength="63.20" lengthAdjust="spacingAndGlyphs" fill="#1a1a1a" stroke="#1a1a1a" stroke-width="0.2" >BIX02188 (10 µM):</text>
<line x1="343.00" y1="512.10" x2="345.20" y2="512.10" stroke="#555" stroke-width="0.9" />
<line x1="358.23" y1="512.10" x2="360.43" y2="512.10" stroke="#555" stroke-width="0.9" />
<line x1="373.46" y1="512.10" x2="375.66" y2="512.10" stroke="#555" stroke-width="0.9" />
<line x1="388.69" y1="512.10" x2="390.89" y2="512.10" stroke="#555" stroke-width="0.9" />
<line x1="403.92" y1="512.10" x2="406.12" y2="512.10" stroke="#555" stroke-width="0.9" />
<line x1="419.15" y1="512.10" x2="421.35" y2="512.10" stroke="#555" stroke-width="0.9" />
<line x1="434.38" y1="512.10" x2="436.58" y2="512.10" stroke="#555" stroke-width="0.9" />
<line x1="449.61" y1="512.10" x2="451.81" y2="512.10" stroke="#555" stroke-width="0.9" />
<line x1="464.84" y1="512.10" x2="467.04" y2="512.10" stroke="#555" stroke-width="0.9" />
<line x1="478.97" y1="512.10" x2="483.37" y2="512.10" stroke="#3a3a3a" stroke-width="0.95" />
<line x1="481.17" y1="509.90" x2="481.17" y2="514.30" stroke="#3a3a3a" stroke-width="0.95" />
<line x1="495.30" y1="512.10" x2="497.50" y2="512.10" stroke="#555" stroke-width="0.9" />
<text x="272.37" y="526.40" font-size="7.9" text-anchor="start" textLength="62.77" lengthAdjust="spacingAndGlyphs" fill="#1a1a1a" stroke="#1a1a1a" stroke-width="0.2" >XMD8-92 (10 µM):</text>
<line x1="343.00" y1="524.50" x2="345.20" y2="524.50" stroke="#555" stroke-width="0.9" />
<line x1="358.23" y1="524.50" x2="360.43" y2="524.50" stroke="#555" stroke-width="0.9" />
<line x1="373.46" y1="524.50" x2="375.66" y2="524.50" stroke="#555" stroke-width="0.9" />
<line x1="388.69" y1="524.50" x2="390.89" y2="524.50" stroke="#555" stroke-width="0.9" />
<line x1="403.92" y1="524.50" x2="406.12" y2="524.50" stroke="#555" stroke-width="0.9" />
<line x1="419.15" y1="524.50" x2="421.35" y2="524.50" stroke="#555" stroke-width="0.9" />
<line x1="434.38" y1="524.50" x2="436.58" y2="524.50" stroke="#555" stroke-width="0.9" />
<line x1="449.61" y1="524.50" x2="451.81" y2="524.50" stroke="#555" stroke-width="0.9" />
<line x1="464.84" y1="524.50" x2="467.04" y2="524.50" stroke="#555" stroke-width="0.9" />
<line x1="480.07" y1="524.50" x2="482.27" y2="524.50" stroke="#555" stroke-width="0.9" />
<line x1="494.20" y1="524.50" x2="498.60" y2="524.50" stroke="#3a3a3a" stroke-width="0.95" />
<line x1="496.40" y1="522.30" x2="496.40" y2="526.70" stroke="#3a3a3a" stroke-width="0.95" />
<text x="265.35" y="474.30" font-size="7.9" text-anchor="start" textLength="68.83" lengthAdjust="spacingAndGlyphs" fill="#1a1a1a" stroke="#1a1a1a" stroke-width="0.2" >Boiled PEG-Catalase</text>
<text x="288.36" y="493.10" font-size="7.9" text-anchor="start" textLength="45.81" lengthAdjust="spacingAndGlyphs" fill="#1a1a1a" stroke="#1a1a1a" stroke-width="0.2" >PEG-Catalase</text>
<rect x="0.5" y="0.5" width="519" height="535" fill="none" stroke="#000" stroke-width="1"/>
<rect x="1" y="1" width="1" height="534" fill="#000" fill-opacity="0.45"/>
<rect x="518" y="1" width="1" height="534" fill="#000" fill-opacity="0.42"/>
<rect x="2" y="1" width="516" height="1" fill="#000" fill-opacity="0.3"/>
<rect x="2" y="534" width="516" height="1" fill="#000" fill-opacity="0.3"/>
</svg></div>
</body></html>
